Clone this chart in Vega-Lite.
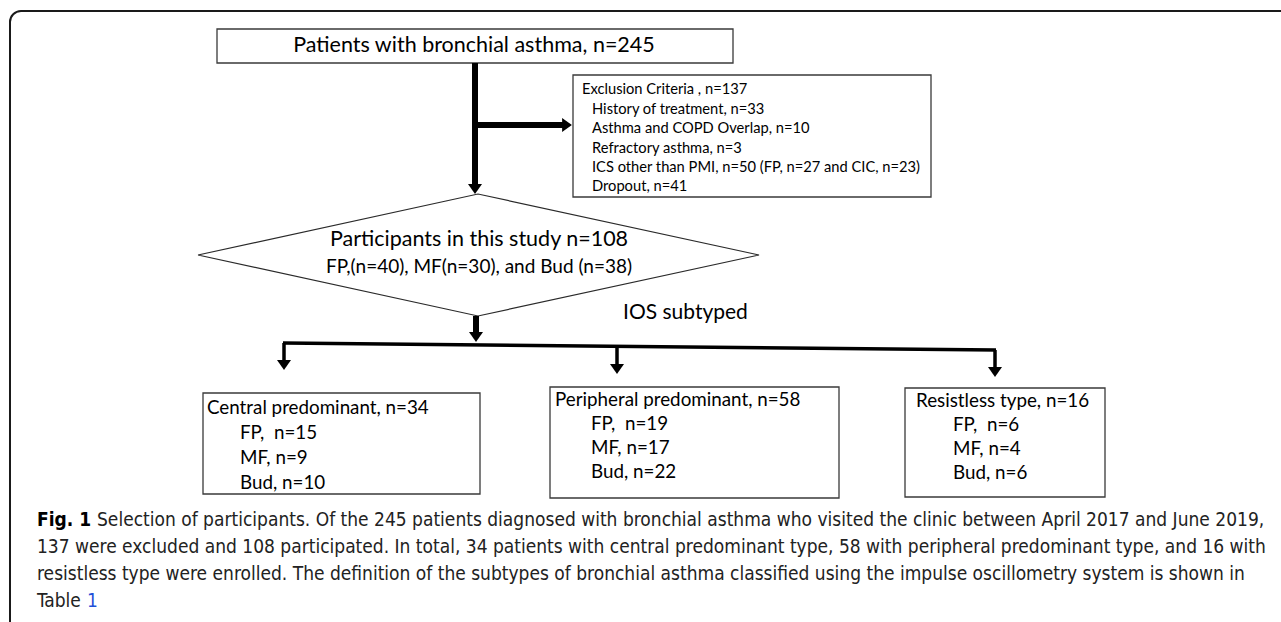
{
  "$schema": "https://vega.github.io/schema/vega-lite/v6.json",
  "width": 1281,
  "height": 622,
  "autosize": {"type": "fit", "contains": "padding"},
  "padding": 0,
  "background": "white",
  "config": {"view": {"stroke": null}},
  "datasets": {
    "frame": [{"x": 10, "x2": 1320, "y": 11, "y2": 660}],
    "boxes": [
      {"name": "top", "x": 217, "x2": 733, "y": 29, "y2": 63},
      {"name": "exclusion", "x": 573, "x2": 931, "y": 75, "y2": 197},
      {"name": "central", "x": 203, "x2": 480, "y": 393, "y2": 494},
      {"name": "peripheral", "x": 550, "x2": 839, "y": 387, "y2": 498},
      {"name": "resistless", "x": 905, "x2": 1105, "y": 388, "y2": 497}
    ],
    "diamond": [
      {"o": 0, "x": 198, "y": 255},
      {"o": 1, "x": 478, "y": 194},
      {"o": 2, "x": 759, "y": 255},
      {"o": 3, "x": 478, "y": 316},
      {"o": 4, "x": 198, "y": 255}
    ],
    "thick": [
      {"x": 475, "x2": 475, "y": 63, "y2": 189},
      {"x": 475, "x2": 566, "y": 125, "y2": 125},
      {"x": 476, "x2": 476, "y": 316, "y2": 337}
    ],
    "medium": [
      {"x": 283, "x2": 996, "y": 343, "y2": 350},
      {"x": 284, "x2": 284, "y": 343, "y2": 365},
      {"x": 617, "x2": 617, "y": 346, "y2": 369},
      {"x": 995, "x2": 995, "y": 350, "y2": 372}
    ],
    "headsDown": [
      {"x": 475, "y": 189},
      {"x": 476, "y": 337},
      {"x": 284, "y": 365},
      {"x": 617, "y": 369},
      {"x": 995, "y": 372}
    ],
    "headsRight": [{"x": 567, "y": 125}],
    "centerText": [
      {"x": 474, "y": 46, "t": "Patients with bronchial asthma, n=245", "g": "big"},
      {"x": 479, "y": 240, "t": "Participants in this study n=108", "g": "big"},
      {"x": 479, "y": 267, "t": "FP,(n=40), MF(n=30), and Bud (n=38)", "g": "mid"}
    ],
    "iosText": [{"x": 623, "y": 313, "t": "IOS subtyped"}],
    "leftText": [
      {"x": 207, "y": 408, "t": "Central predominant, n=34"},
      {"x": 240, "y": 433, "t": "FP, \u00a0n=15"},
      {"x": 240, "y": 458, "t": "MF, n=9"},
      {"x": 240, "y": 483, "t": "Bud, n=10"},
      {"x": 555, "y": 400, "t": "Peripheral predominant, n=58"},
      {"x": 591, "y": 424, "t": "FP, \u00a0n=19"},
      {"x": 591, "y": 448, "t": "MF, n=17"},
      {"x": 591, "y": 472, "t": "Bud, n=22"},
      {"x": 916, "y": 401, "t": "Resistless type, n=16"},
      {"x": 953, "y": 425, "t": "FP, \u00a0n=6"},
      {"x": 953, "y": 449, "t": "MF, n=4"},
      {"x": 953, "y": 473, "t": "Bud, n=6"}
    ],
    "exclText": [
      {"x": 582, "y": 90, "t": "Exclusion Criteria , n=137"},
      {"x": 592, "y": 110, "t": "History of treatment, n=33"},
      {"x": 592, "y": 129, "t": "Asthma and COPD Overlap, n=10"},
      {"x": 592, "y": 149, "t": "Refractory asthma, n=3"},
      {"x": 592, "y": 168, "t": "ICS other than PMI, n=50 (FP, n=27 and CIC, n=23)"},
      {"x": 592, "y": 187, "t": "Dropout, n=41"}
    ],
    "capBold": [{"x": 37, "y": 520, "t": "Fig. 1"}],
    "capText": [
      {"x": 97, "y": 520, "t": "Selection of participants. Of the 245 patients diagnosed with bronchial asthma who visited the clinic between April 2017 and June 2019,"},
      {"x": 37, "y": 547, "t": "137 were excluded and 108 participated. In total, 34 patients with central predominant type, 58 with peripheral predominant type, and 16 with"},
      {"x": 37, "y": 574, "t": "resistless type were enrolled. The definition of the subtypes of bronchial asthma classified using the impulse oscillometry system is shown in"},
      {"x": 37, "y": 601, "t": "Table"}
    ],
    "capLink": [{"x": 87, "y": 601, "t": "1"}]
  },
  "encoding": {
    "x": {"field": "x", "type": "quantitative", "scale": {"domain": [0, 1281], "nice": false, "zero": false}, "axis": null},
    "y": {"field": "y", "type": "quantitative", "scale": {"domain": [0, 622], "nice": false, "zero": false, "reverse": true}, "axis": null}
  },
  "layer": [
    {
      "data": {"name": "frame"},
      "mark": {"type": "rect", "fill": null, "stroke": "#1a1a1a", "strokeWidth": 2, "cornerRadius": 11, "clip": true},
      "encoding": {"x2": {"field": "x2"}, "y2": {"field": "y2"}}
    },
    {
      "data": {"name": "boxes"},
      "mark": {"type": "rect", "fill": "white", "stroke": "#3a3a3a", "strokeWidth": 1.3},
      "encoding": {"x2": {"field": "x2"}, "y2": {"field": "y2"}}
    },
    {
      "data": {"name": "diamond"},
      "mark": {"type": "line", "stroke": "#2a2a2a", "strokeWidth": 1.2},
      "encoding": {"order": {"field": "o", "type": "quantitative"}}
    },
    {
      "data": {"name": "thick"},
      "mark": {"type": "rule", "stroke": "black", "strokeWidth": 6},
      "encoding": {"x2": {"field": "x2"}, "y2": {"field": "y2"}}
    },
    {
      "data": {"name": "medium"},
      "mark": {"type": "rule", "stroke": "black", "strokeWidth": 3.5},
      "encoding": {"x2": {"field": "x2"}, "y2": {"field": "y2"}}
    },
    {
      "data": {"name": "headsDown"},
      "mark": {"type": "point", "shape": "M-1,-0.7L1,-0.7L0,0.7Z", "filled": true, "fill": "black", "stroke": null, "size": 196, "opacity": 1}
    },
    {
      "data": {"name": "headsRight"},
      "mark": {"type": "point", "shape": "M-0.7,-1L0.7,0L-0.7,1Z", "filled": true, "fill": "black", "stroke": null, "size": 196, "opacity": 1}
    },
    {
      "data": {"name": "centerText"},
      "transform": [{"filter": "datum.g == 'big'"}],
      "mark": {"type": "text", "font": "Lato", "fontSize": 21.5, "align": "center", "baseline": "middle", "color": "black"},
      "encoding": {"text": {"field": "t"}}
    },
    {
      "data": {"name": "centerText"},
      "transform": [{"filter": "datum.g == 'mid'"}],
      "mark": {"type": "text", "font": "Lato", "fontSize": 19, "align": "center", "baseline": "middle", "color": "black"},
      "encoding": {"text": {"field": "t"}}
    },
    {
      "data": {"name": "iosText"},
      "mark": {"type": "text", "font": "Lato", "fontSize": 21, "align": "left", "baseline": "middle", "color": "black"},
      "encoding": {"text": {"field": "t"}}
    },
    {
      "data": {"name": "leftText"},
      "mark": {"type": "text", "font": "Lato", "fontSize": 18.8, "align": "left", "baseline": "middle", "color": "black"},
      "encoding": {"text": {"field": "t"}}
    },
    {
      "data": {"name": "exclText"},
      "mark": {"type": "text", "font": "Lato", "fontSize": 14.7, "align": "left", "baseline": "middle", "color": "black"},
      "encoding": {"text": {"field": "t"}}
    },
    {
      "data": {"name": "capBold"},
      "mark": {"type": "text", "font": "Liberation Sans Narrow, DejaVu Sans Condensed, sans-serif", "fontSize": 19, "fontWeight": "bold", "align": "left", "baseline": "middle", "color": "black"},
      "encoding": {"text": {"field": "t"}}
    },
    {
      "data": {"name": "capText"},
      "mark": {"type": "text", "font": "Liberation Sans Narrow, DejaVu Sans Condensed, sans-serif", "fontSize": 19, "align": "left", "baseline": "middle", "color": "#222"},
      "encoding": {"text": {"field": "t"}}
    },
    {
      "data": {"name": "capLink"},
      "mark": {"type": "text", "font": "Liberation Sans Narrow, DejaVu Sans Condensed, sans-serif", "fontSize": 19, "align": "left", "baseline": "middle", "color": "#1f4fd8"},
      "encoding": {"text": {"field": "t"}}
    }
  ]
}
